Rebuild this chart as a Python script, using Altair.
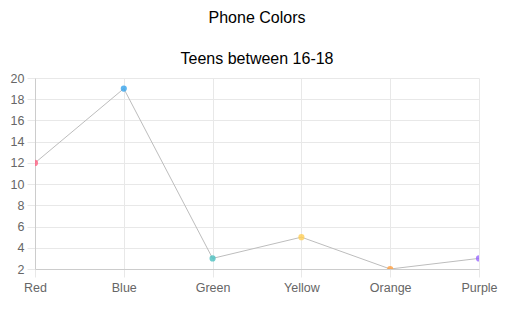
import altair as alt
import pandas as pd

colors = ["Red", "Blue", "Green", "Yellow", "Orange", "Purple"]
counts = [12, 19, 3, 5, 2, 3]
point_colors = ["#ff6384", "#36a2eb", "#4bc0c0", "#ffce56", "#ff9f40", "#9966ff"]
y_ticks = [2, 4, 6, 8, 10, 12, 14, 16, 18, 20]

df = pd.DataFrame({"color": colors, "count": counts, "pc": point_colors})

FONT = "Helvetica Neue, Liberation Sans, Arial, sans-serif"

x = alt.X("color:N", sort=colors, title=None,
          scale=alt.Scale(type="point", padding=0),
          axis=alt.Axis(labelAngle=0, labelColor="#666", labelFontSize=12.5, labelFont=FONT,
                        grid=True, gridColor="#e8e8e8", tickColor="#e8e8e8", tickSize=8,
                        domainColor="#cccccc", labelPadding=4))
y = alt.Y("count:Q", title=None,
          scale=alt.Scale(domain=[2, 20], nice=False, zero=False),
          axis=alt.Axis(values=y_ticks, labelColor="#666", labelFontSize=12.5, labelFont=FONT,
                        grid=True, gridColor="#e8e8e8", tickColor="#e8e8e8", tickSize=8,
                        domainColor="#cccccc", labelPadding=3))

base = alt.Chart(df).encode(x=x, y=y)
line = base.mark_line(color="#bdbdbd", strokeWidth=1, clip=True)
pts = base.mark_point(filled=True, size=38, opacity=0.8, clip=True).encode(
    color=alt.Color("pc:N", scale=None))

chart = (line + pts).properties(
    width=444, height=191,
    title=alt.TitleParams("Phone Colors", subtitle="Teens between 16-18",
                          fontSize=16, fontWeight="normal", font=FONT, color="#000",
                          subtitleFontSize=16, subtitleFont=FONT, subtitleColor="#000",
                          subtitlePadding=25, anchor="middle", offset=5),
    autosize=alt.AutoSizeParams(type="none"),
    padding={"left": 35, "top": 78, "right": 41, "bottom": 51},
).configure_view(stroke=None)

chart.save("out.html", embed_options={"renderer": "svg", "actions": False})
